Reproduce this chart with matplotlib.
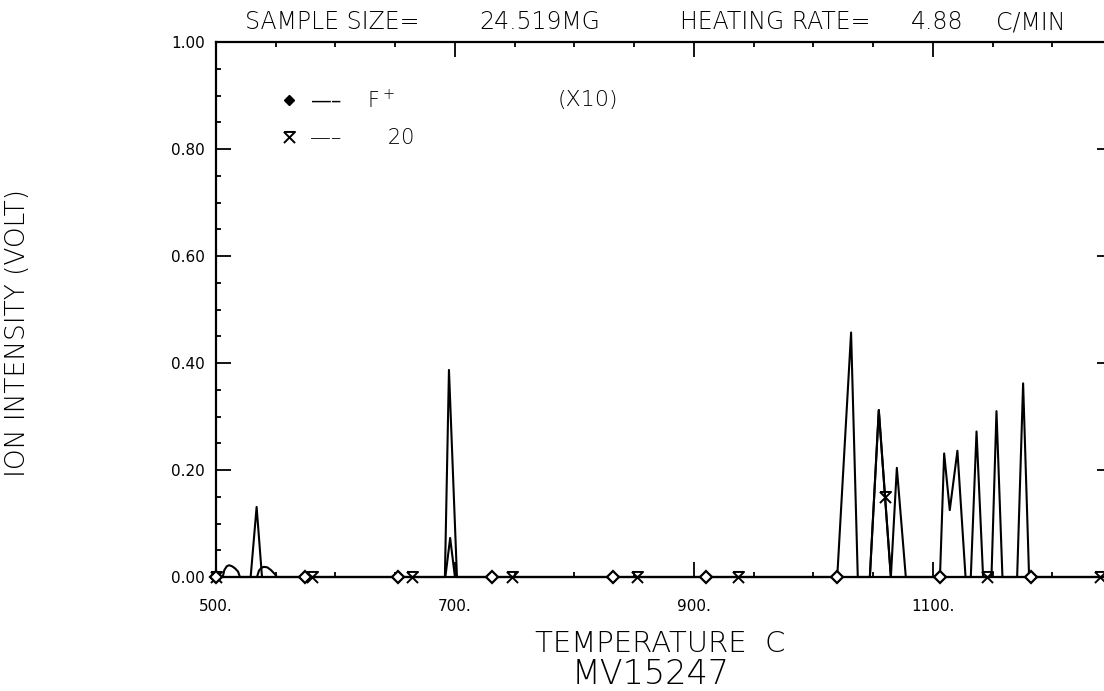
import numpy as np
import matplotlib.pyplot as plt
from matplotlib.path import Path
from matplotlib.lines import Line2D
from matplotlib.ticker import MultipleLocator, FormatStrFormatter

# F+ ion curve: temperature (C) and intensity (volt)
temp_f = [500, 529, 534, 538.5, 574.5, 652.6, 691.6, 695, 701.7, 730.7, 832, 910,
          1020, 1031.6, 1037.2, 1047.3, 1054.8, 1064.9, 1069.9, 1077.4,
          1106, 1109.5, 1114.2, 1120.6, 1127.4, 1131.8, 1136.6, 1142.1,
          1149.1, 1153.3, 1158.3, 1170.6, 1175.6, 1180.6, 1182.6, 1250]
ion_f = [0, 0, 0.131, 0, 0, 0, 0, 0.387, 0, 0, 0, 0,
         0, 0.457, 0, 0, 0.312, 0, 0.204, 0,
         0, 0.231, 0.125, 0.236, 0, 0, 0.272, 0,
         0, 0.310, 0, 0, 0.362, 0, 0, 0]
marks_f = [500, 574.5, 652.6, 730.7, 832, 910, 1020, 1106, 1182.6]

# mass 20 curve (X10)
temp_20 = [500, 505.6, 507, 509, 511, 513.5, 516, 518.5, 520,
           534.3, 536, 538, 540, 543, 546, 549, 551,
           580, 663.8, 692, 696, 700, 747.5, 852, 937,
           1047.3, 1054.8, 1060, 1064.9, 1145.5, 1240, 1250]
ion_20 = [0, 0, 0.013, 0.020, 0.022, 0.020, 0.016, 0.010, 0,
          0, 0.012, 0.017, 0.019, 0.018, 0.013, 0.006, 0,
          0, 0, 0, 0.073, 0, 0, 0, 0,
          0, 0.312, 0.150, 0, 0, 0, 0]
marks_20 = [500, 580, 663.8, 747.5, 852, 937, 1060, 1145.5, 1240]

W, H = 1104, 691
fig = plt.figure(figsize=(W / 100, H / 100), dpi=100)
ax = fig.add_axes([216 / W, 1 - 577 / H, (1112 - 216) / W, (577 - 42) / H])

# X with a bar on top, the plotter symbol for the second curve
hg = Path([(-1, 1), (1, 1), (-1, -1), (-1, 1), (1, -1)],
          [Path.MOVETO, Path.LINETO, Path.LINETO, Path.MOVETO, Path.LINETO])

idx_f = [temp_f.index(t) for t in marks_f]
idx_20 = [temp_20.index(t) for t in marks_20]

ax.plot(temp_20, ion_20, color='k', lw=1.5, marker=hg, ms=8, mew=1.4, mfc='none',
        markevery=idx_20, clip_on=False, zorder=3)
ax.plot(temp_f, ion_f, color='k', lw=1.5, marker='D', ms=6, mfc='white',
        mec='k', mew=1.6, markevery=idx_f, clip_on=False, zorder=4)

ax.set_xlim(500, 1250)
ax.set_ylim(0, 1.0)
ax.xaxis.set_major_locator(MultipleLocator(200, offset=100))
ax.xaxis.set_minor_locator(MultipleLocator(50))
ax.yaxis.set_major_locator(MultipleLocator(0.2))
ax.yaxis.set_minor_locator(MultipleLocator(0.05))
ax.xaxis.set_major_formatter(FormatStrFormatter('%d.'))
ax.yaxis.set_major_formatter(FormatStrFormatter('%.2f'))
ax.tick_params(which='both', direction='in', top=True, right=True, width=1.3, colors='k')
ax.tick_params(which='major', length=11)
ax.tick_params(which='minor', length=3.5)
ax.tick_params(axis='x', which='major', pad=16, labelsize=11)
ax.tick_params(axis='y', which='major', pad=8, labelsize=11)
for s in ax.spines.values():
    s.set_linewidth(1.6)

# legend
h1 = Line2D([], [], marker='D', ms=5, color='k', ls='none')
h2 = Line2D([], [], marker=hg, ms=8, mew=1.4, mfc='none', color='k', ls='none')
ax.legend([h1, h2], ['\u2014\u2013    $\\mathregular{F^+}$', '\u2014\u2013       20'],
          loc='upper left', bbox_to_anchor=(0.058, 0.932), frameon=False,
          handlelength=1.0, handletextpad=0.5, labelspacing=0.8,
          prop={'size': 15, 'weight': 'light'}, borderpad=0)
ax.text((588 - 216) / (1112 - 216), (577 - 100) / 535, '(X10)', fontsize=16,
        fontweight='light', ha='center', va='center', transform=ax.transAxes)

# title pieces, centred where the plotter put them
title_parts = [('SAMPLE SIZE=', 332), ('24.519MG', 540), ('HEATING RATE=', 775),
               ('4.88', 937), ('C/MIN', 1031)]
for txt, px in title_parts:
    fig.text(px / W, 1 - 22 / H, txt, fontsize=17, fontweight='light',
             ha='center', va='center')

fig.text(18 / W, 1 - 333 / H, 'ION INTENSITY (VOLT)', rotation=90, fontsize=19,
         fontweight='light', ha='center', va='center')
fig.text(660 / W, 1 - 644 / H, 'TEMPERATURE  C', fontsize=21, fontweight='light',
         ha='center', va='center')
fig.text(651 / W, 1 - 675 / H, 'MV15247', fontsize=24, fontweight='light',
         ha='center', va='center')

fig.savefig('out.png', dpi=100, facecolor='white')
